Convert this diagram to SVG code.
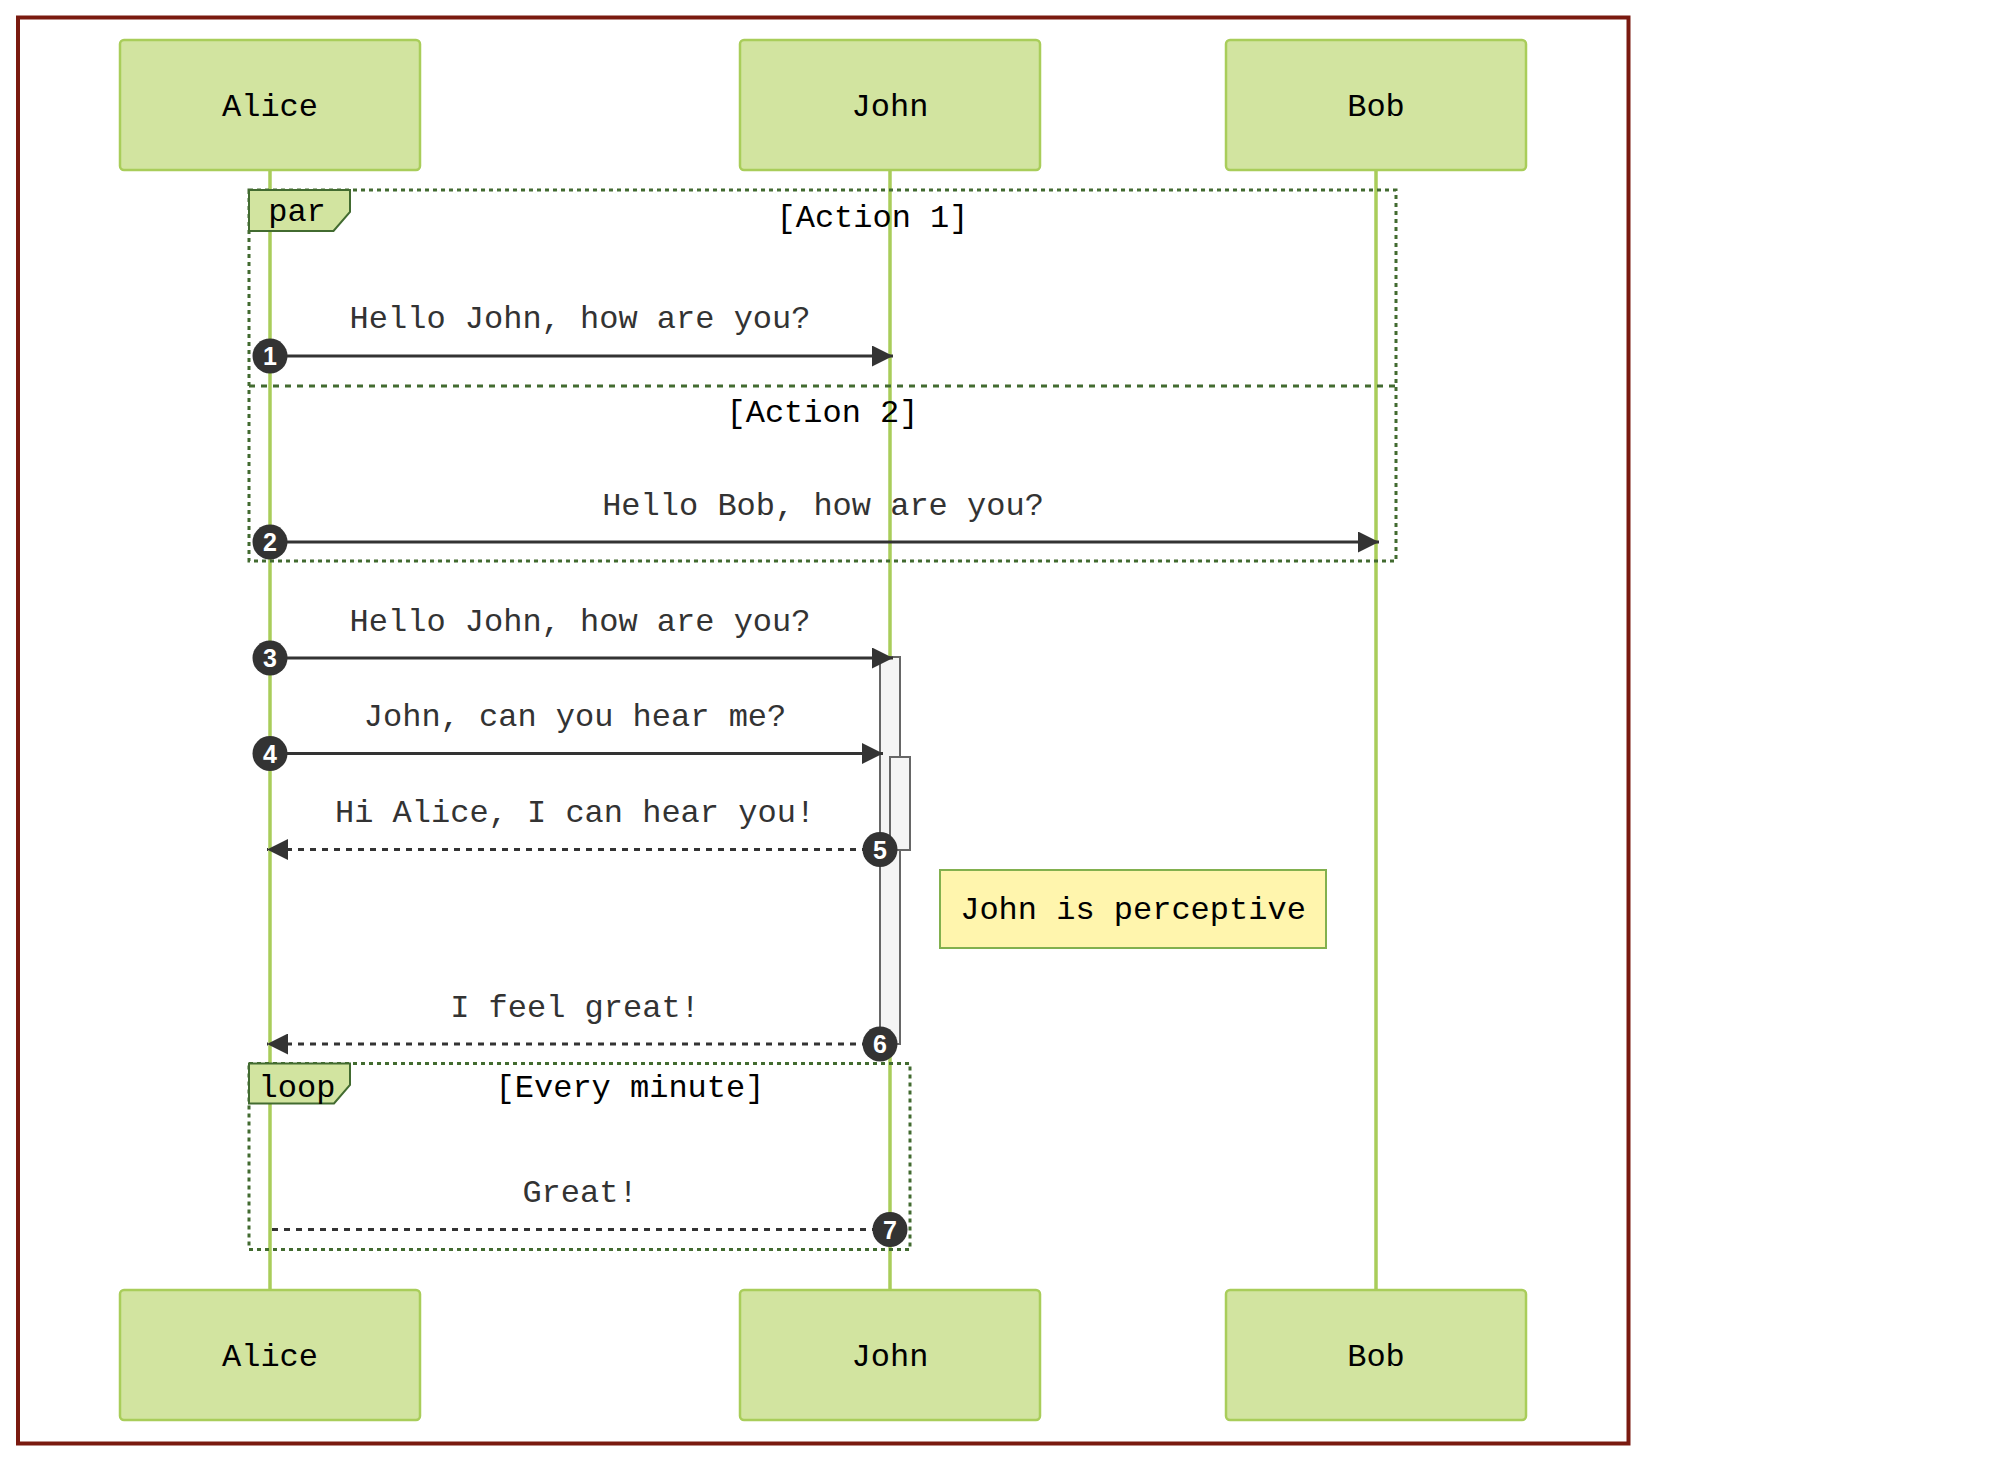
<svg xmlns="http://www.w3.org/2000/svg" width="2000" height="1462" viewBox="0 0 2000 1462">
<style>
.actor{fill:#d2e4a0;stroke:#a9cd5a;stroke-width:2.5}
.atext{font-family:"Liberation Mono",monospace;font-size:32px;fill:#000;text-anchor:middle}
.life{stroke:#a9cd5a;stroke-width:3.5}
.frame{fill:none;stroke:#426b30;stroke-width:3;stroke-dasharray:4,4}
.divider{stroke:#426b30;stroke-width:3;stroke-dasharray:6,6}
.lbox{fill:#d2e4a0;stroke:#426b30;stroke-width:2}
.ltext{font-family:"Liberation Mono",monospace;font-size:32px;fill:#000;text-anchor:middle}
.msg{stroke:#333;stroke-width:3;fill:none}
.dot{stroke-dasharray:6,6}
.mtext{font-family:"Liberation Mono",monospace;font-size:32px;fill:#333;text-anchor:middle}
.act{fill:#f4f4f4;stroke:#666;stroke-width:2}
.num{fill:#333}
.ntext{font-family:"Liberation Sans",Arial,sans-serif;font-size:25px;font-weight:bold;fill:#fff;text-anchor:middle}
.note{fill:#fff5ad;stroke:#82b04e;stroke-width:2}
</style>
<defs>
<marker id="arrow" viewBox="0 0 21 21" refX="21" refY="10.5" markerWidth="21" markerHeight="21" markerUnits="userSpaceOnUse" orient="auto">
<path d="M0,0 L21,10.5 L0,21 z" fill="#333"/>
</marker>
</defs>
<rect x="0" y="0" width="2000" height="1462" fill="#fff"/>
<rect x="18" y="17.5" width="1610.5" height="1426" fill="none" stroke="#7a1a10" stroke-width="4"/>

<g id="lifelines">
<line class="life" x1="270" y1="170" x2="270" y2="1290"/>
<line class="life" x1="890" y1="170" x2="890" y2="1290"/>
<line class="life" x1="1376" y1="170" x2="1376" y2="1290"/>
</g>

<g id="actor-alice-top"><rect class="actor" x="120" y="40" width="300" height="130" rx="4"/><text class="atext" x="270" y="116">Alice</text></g>
<g id="actor-john-top"><rect class="actor" x="740" y="40" width="300" height="130" rx="4"/><text class="atext" x="890" y="116">John</text></g>
<g id="actor-bob-top"><rect class="actor" x="1226" y="40" width="300" height="130" rx="4"/><text class="atext" x="1376" y="116">Bob</text></g>

<g id="par-frame">
<rect class="frame" x="249" y="190" width="1147" height="371"/>
<line class="divider" x1="249" y1="386" x2="1396" y2="386"/>
<polygon class="lbox" points="249,190 350,190 350,212 333.5,231 249,231"/>
<text class="ltext" x="297" y="221">par</text>
<text class="ltext" x="872.5" y="227">[Action 1]</text>
<text class="ltext" x="822.5" y="422">[Action 2]</text>
</g>

<g id="loop-frame">
<rect class="frame" x="249" y="1063.5" width="661" height="186"/>
<polygon class="lbox" points="249,1063.5 350,1063.5 350,1085 334,1103.5 249,1103.5"/>
<text class="ltext" x="297" y="1096.5">loop</text>
<text class="ltext" x="630" y="1097">[Every minute]</text>
</g>

<g id="activations">
<rect class="act" x="880" y="657" width="20" height="387"/>
<rect class="act" x="890" y="757" width="20" height="93"/>
</g>

<g id="connectors">
<line class="msg" x1="270" y1="356" x2="893" y2="356" marker-end="url(#arrow)"/>
<text class="mtext" x="580" y="328">Hello John, how are you?</text>
<line class="msg" x1="270" y1="542" x2="1379" y2="542" marker-end="url(#arrow)"/>
<text class="mtext" x="823" y="514.5">Hello Bob, how are you?</text>
<line class="msg" x1="270" y1="658" x2="893" y2="658" marker-end="url(#arrow)"/>
<text class="mtext" x="580" y="631">Hello John, how are you?</text>
<line class="msg" x1="270" y1="753.5" x2="883" y2="753.5" marker-end="url(#arrow)"/>
<text class="mtext" x="575" y="726">John, can you hear me?</text>
<line class="msg dot" x1="880" y1="849.5" x2="267" y2="849.5" marker-end="url(#arrow)"/>
<text class="mtext" x="575" y="822">Hi Alice, I can hear you!</text>
<line class="msg dot" x1="880" y1="1044" x2="267" y2="1044" marker-end="url(#arrow)"/>
<text class="mtext" x="575" y="1016.5">I feel great!</text>
<line class="msg dot" x1="890" y1="1229.5" x2="271" y2="1229.5"/>
<text class="mtext" x="580" y="1202">Great!</text>
</g>

<g id="sequence-numbers">
<circle class="num" cx="270" cy="356" r="17.5"/><text class="ntext" x="270" y="365">1</text>
<circle class="num" cx="270" cy="542" r="17.5"/><text class="ntext" x="270" y="551">2</text>
<circle class="num" cx="270" cy="658" r="17.5"/><text class="ntext" x="270" y="667">3</text>
<circle class="num" cx="270" cy="753.5" r="17.5"/><text class="ntext" x="270" y="762.5">4</text>
<circle class="num" cx="880" cy="849.5" r="17.5"/><text class="ntext" x="880" y="858.5">5</text>
<circle class="num" cx="880" cy="1044" r="17.5"/><text class="ntext" x="880" y="1053">6</text>
<circle class="num" cx="890" cy="1229.5" r="17.5"/><text class="ntext" x="890" y="1238.5">7</text>
</g>

<g id="note">
<rect class="note" x="940" y="870" width="386" height="78"/>
<text class="atext" x="1133" y="918.5">John is perceptive</text>
</g>

<g id="actor-alice-bottom"><rect class="actor" x="120" y="1290" width="300" height="130" rx="4"/><text class="atext" x="270" y="1366">Alice</text></g>
<g id="actor-john-bottom"><rect class="actor" x="740" y="1290" width="300" height="130" rx="4"/><text class="atext" x="890" y="1366">John</text></g>
<g id="actor-bob-bottom"><rect class="actor" x="1226" y="1290" width="300" height="130" rx="4"/><text class="atext" x="1376" y="1366">Bob</text></g>
</svg>
